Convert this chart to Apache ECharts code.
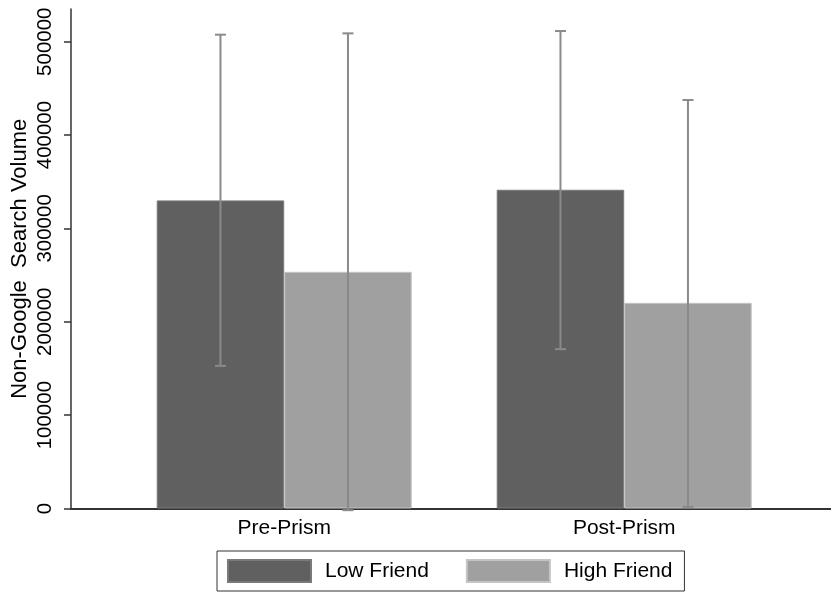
<!DOCTYPE html>
<html>
<head>
<meta charset="utf-8">
<script src="https://cdn.jsdelivr.net/npm/echarts@6/dist/echarts.min.js"></script>
<style>
html,body{margin:0;padding:0;background:#fff;}
#chart{width:831px;height:592px;}
</style>
</head>
<body>
<div id="chart"></div>
<script>
// ---- data ----
const categories = ['Pre-Prism', 'Post-Prism'];
const seriesNames = ['Low Friend', 'High Friend'];
const lowFriend = [330000, 341400];
const highFriend = [253500, 220300];
const lowFriendCILow = [152800, 170700];
const lowFriendCIHigh = [507500, 511400];
const highFriendCILow = [-1800, 1700];
const highFriendCIHigh = [508900, 437500];
const yTicks = [0, 100000, 200000, 300000, 400000, 500000];

const FONT = "'Liberation Sans', Arial, sans-serif";
const catPos = categories.map((c, i) => i + 1);
const BAR_W = 127.5;

function barData(vals) { return vals.map((v, i) => [catPos[i], v]); }
function errData(lo, hi) { return lo.map((l, i) => [catPos[i], l, hi[i]]); }

function errRender(offset) {
  return function (params, api) {
    const x = api.value(0);
    const pLo = api.coord([x, api.value(1)]);
    const pHi = api.coord([x, api.value(2)]);
    const cx = pLo[0] + offset;
    const half = 5.5;
    const style = { stroke: '#8a8a8a', lineWidth: 2 };
    return {
      type: 'group',
      children: [
        { type: 'line', shape: { x1: cx, y1: pLo[1], x2: cx, y2: pHi[1] }, style: style },
        { type: 'line', shape: { x1: cx - half, y1: pHi[1], x2: cx + half, y2: pHi[1] }, style: style },
        { type: 'line', shape: { x1: cx - half, y1: pLo[1], x2: cx + half, y2: pLo[1] }, style: style }
      ]
    };
  };
}

const chart = echarts.init(document.getElementById('chart'));
chart.setOption({
  animation: false,
  backgroundColor: '#ffffff',
  textStyle: { fontFamily: FONT },
  grid: { left: 71, right: 0, top: 9, bottom: 83.5, containLabel: false, outerBoundsMode: 'none' },
  legend: {
    data: seriesNames,
    left: 217, top: 551,
    orient: 'horizontal',
    itemWidth: 83, itemHeight: 22,
    itemGap: 37,
    padding: [8, 12, 8, 10],
    borderColor: '#333333', borderWidth: 1,
    icon: 'rect',
    textStyle: { fontFamily: FONT, fontSize: 21, lineHeight: 22, color: '#000', padding: [0, 0, 0, 9] }
  },
  xAxis: {
    type: 'value',
    min: 0.3729, max: 2.6082,
    splitLine: { show: false },
    axisLine: { show: true, onZero: false, lineStyle: { color: '#333333', width: 2 } },
    axisTick: { show: false },
    axisLabel: {
      customValues: catPos,
      formatter: function (v) { return categories[Math.round(v) - 1] || ''; },
      fontFamily: FONT, fontSize: 21, color: '#000', margin: 9
    }
  },
  yAxis: {
    type: 'value',
    min: 0, max: 535000,
    splitLine: { show: false },
    name: 'Non-Google  Search Volume',
    nameLocation: 'middle',
    nameGap: 40,
    nameMoveOverlap: false,
    nameTextStyle: { fontFamily: FONT, fontSize: 22, color: '#000' },
    axisLine: { show: true, lineStyle: { color: '#333333', width: 1.5 } },
    axisTick: { show: true, length: 7, customValues: yTicks, lineStyle: { color: '#333333', width: 1.5 } },
    axisLabel: {
      customValues: yTicks,
      rotate: 90,
      formatter: function (v) { return String(v); },
      fontFamily: FONT, fontSize: 20.5, color: '#000', margin: 15
    }
  },
  series: [
    {
      name: seriesNames[0], type: 'bar', barWidth: BAR_W, barGap: '0%',
      data: barData(lowFriend),
      itemStyle: { color: '#606060', borderColor: '#7a7a7a', borderWidth: 1 }
    },
    {
      name: seriesNames[1], type: 'bar', barWidth: BAR_W, barGap: '0%',
      data: barData(highFriend),
      itemStyle: { color: '#a0a0a0', borderColor: '#c4c4c4', borderWidth: 1 }
    },
    {
      type: 'custom', name: 'err-low', z: 5,
      renderItem: errRender(-BAR_W / 2),
      data: errData(lowFriendCILow, lowFriendCIHigh),
      encode: { x: 0, y: [1, 2] }
    },
    {
      type: 'custom', name: 'err-high', z: 5,
      renderItem: errRender(BAR_W / 2),
      data: errData(highFriendCILow, highFriendCIHigh),
      encode: { x: 0, y: [1, 2] }
    }
  ]
});
</script>
</body>
</html>
